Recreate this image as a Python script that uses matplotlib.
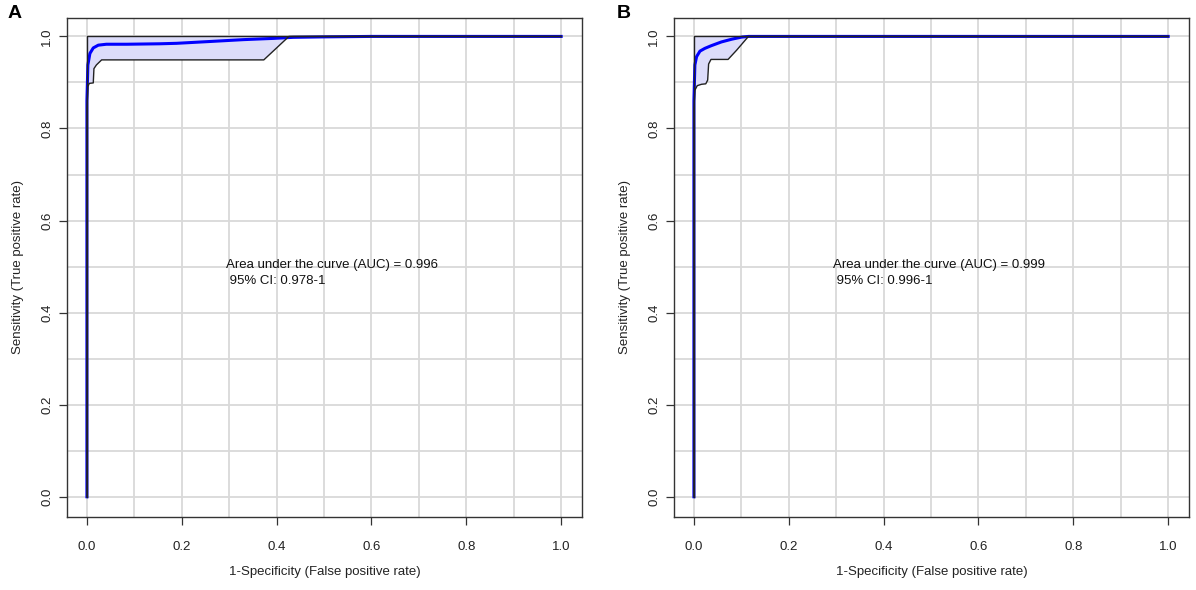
import matplotlib
matplotlib.use("Agg")
import matplotlib.pyplot as plt
import numpy as np

plt.rcParams['font.family'] = ['Liberation Sans', 'DejaVu Sans']

# Panel A data
roc_a_fpr = [0.0, 0.0, 0.002, 0.0063, 0.0134, 0.024, 0.041, 0.084, 0.154, 0.189, 0.26, 0.33, 0.393, 0.435, 0.5, 0.6, 1.0]
roc_a_tpr = [0.0, 0.86, 0.938, 0.963, 0.975, 0.981, 0.983, 0.983, 0.984, 0.985, 0.989, 0.993, 0.9957, 0.998, 0.999, 1.0, 1.0]
ci_a_fpr = [0.0, 0.0, 0.002, 0.005, 0.0134, 0.0148, 0.02, 0.031, 0.373, 0.426, 1.0]
ci_a_lower = [0.0, 0.843, 0.891, 0.898, 0.899, 0.930, 0.938, 0.949, 0.949, 1.0, 1.0]
auc_a = "0.996"
ci_a = "0.978-1"

# Panel B data
roc_b_fpr = [0.0, 0.0, 0.002, 0.0056, 0.0127, 0.023, 0.037, 0.058, 0.080, 0.101, 0.115, 1.0]
roc_b_tpr = [0.0, 0.86, 0.938, 0.956, 0.968, 0.974, 0.980, 0.988, 0.994, 0.9986, 1.0, 1.0]
ci_b_fpr = [0.0, 0.0, 0.002, 0.007, 0.016, 0.025, 0.029, 0.031, 0.036, 0.072, 0.09, 0.115, 1.0]
ci_b_lower = [0.0, 0.843, 0.883, 0.893, 0.896, 0.897, 0.905, 0.94, 0.950, 0.950, 0.970, 1.0, 1.0]
auc_b = "0.999"
ci_b = "0.996-1"

ticks = [0.0, 0.2, 0.4, 0.6, 0.8, 1.0]
tick_labels = ["0.0", "0.2", "0.4", "0.6", "0.8", "1.0"]
grid_vals = np.round(np.arange(0, 1.01, 0.1), 2)

fig = plt.figure(figsize=(11.96, 5.90), dpi=100)
W, H = 1196, 590

def make_panel(left_px, letter, letter_x, fpr, tpr, cfpr, clow, auc, ci):
    ax = fig.add_axes([left_px / W, 1 - 517 / H, 515 / W, 499 / H])
    ax.set_xlim(-0.042, 1.044)
    ax.set_ylim(-0.044, 1.04)
    for g in grid_vals:
        ax.axvline(g, color='#d9d9d9', lw=1.3, zorder=0)
        ax.axhline(g, color='#d9d9d9', lw=1.3, zorder=0)
    upper_x = [0.0, 0.0, 1.0]
    upper_y = [0.0, 1.0, 1.0]
    # shaded CI
    poly_x = list(cfpr) + upper_x[::-1]
    poly_y = list(clow) + upper_y[::-1]
    ax.fill(poly_x, poly_y, color='#dcdcfa', lw=0, zorder=1)
    ax.plot(fpr, tpr, color='#0000ff', lw=2.2, zorder=2, solid_joinstyle='round')
    ax.plot(cfpr, clow, color='#222222', lw=1.0, zorder=3)
    ax.plot(upper_x, upper_y, color='#222222', lw=1.0, zorder=3)
    ax.set_xticks(ticks)
    ax.set_xticklabels(tick_labels)
    ax.set_yticks(ticks)
    ax.set_yticklabels(tick_labels, rotation=90, va='center')
    ax.tick_params(axis='both', direction='out', length=6, width=0.9, colors='#333333',
                   labelsize=9.5, labelcolor='#222222')
    ax.tick_params(axis='x', pad=11)
    ax.tick_params(axis='y', pad=4)
    for s in ax.spines.values():
        s.set_color('#333333')
        s.set_linewidth(1.0)
    ax.set_xlabel("1-Specificity (False positive rate)", fontsize=9.5, labelpad=10, color='#222222')
    ax.set_ylabel("Sensitivity (True positive rate)", fontsize=9.5, labelpad=12, color='#222222')
    ax.text(0.293, 0.504, "Area under the curve (AUC) = " + auc, fontsize=9.5,
            ha='left', va='center', color='#111111', zorder=4)
    ax.text(0.293, 0.469, " 95% CI: " + ci, fontsize=9.5,
            ha='left', va='center', color='#111111', zorder=4)
    fig.text(letter_x / W, 1 - 14 / H, letter, fontsize=14, fontweight='bold',
             ha='left', va='center')
    return ax

make_panel(67, "A", 8, roc_a_fpr, roc_a_tpr, ci_a_fpr, ci_a_lower, auc_a, ci_a)
make_panel(674, "B", 617, roc_b_fpr, roc_b_tpr, ci_b_fpr, ci_b_lower, auc_b, ci_b)

fig.savefig("out.png", dpi=100)
